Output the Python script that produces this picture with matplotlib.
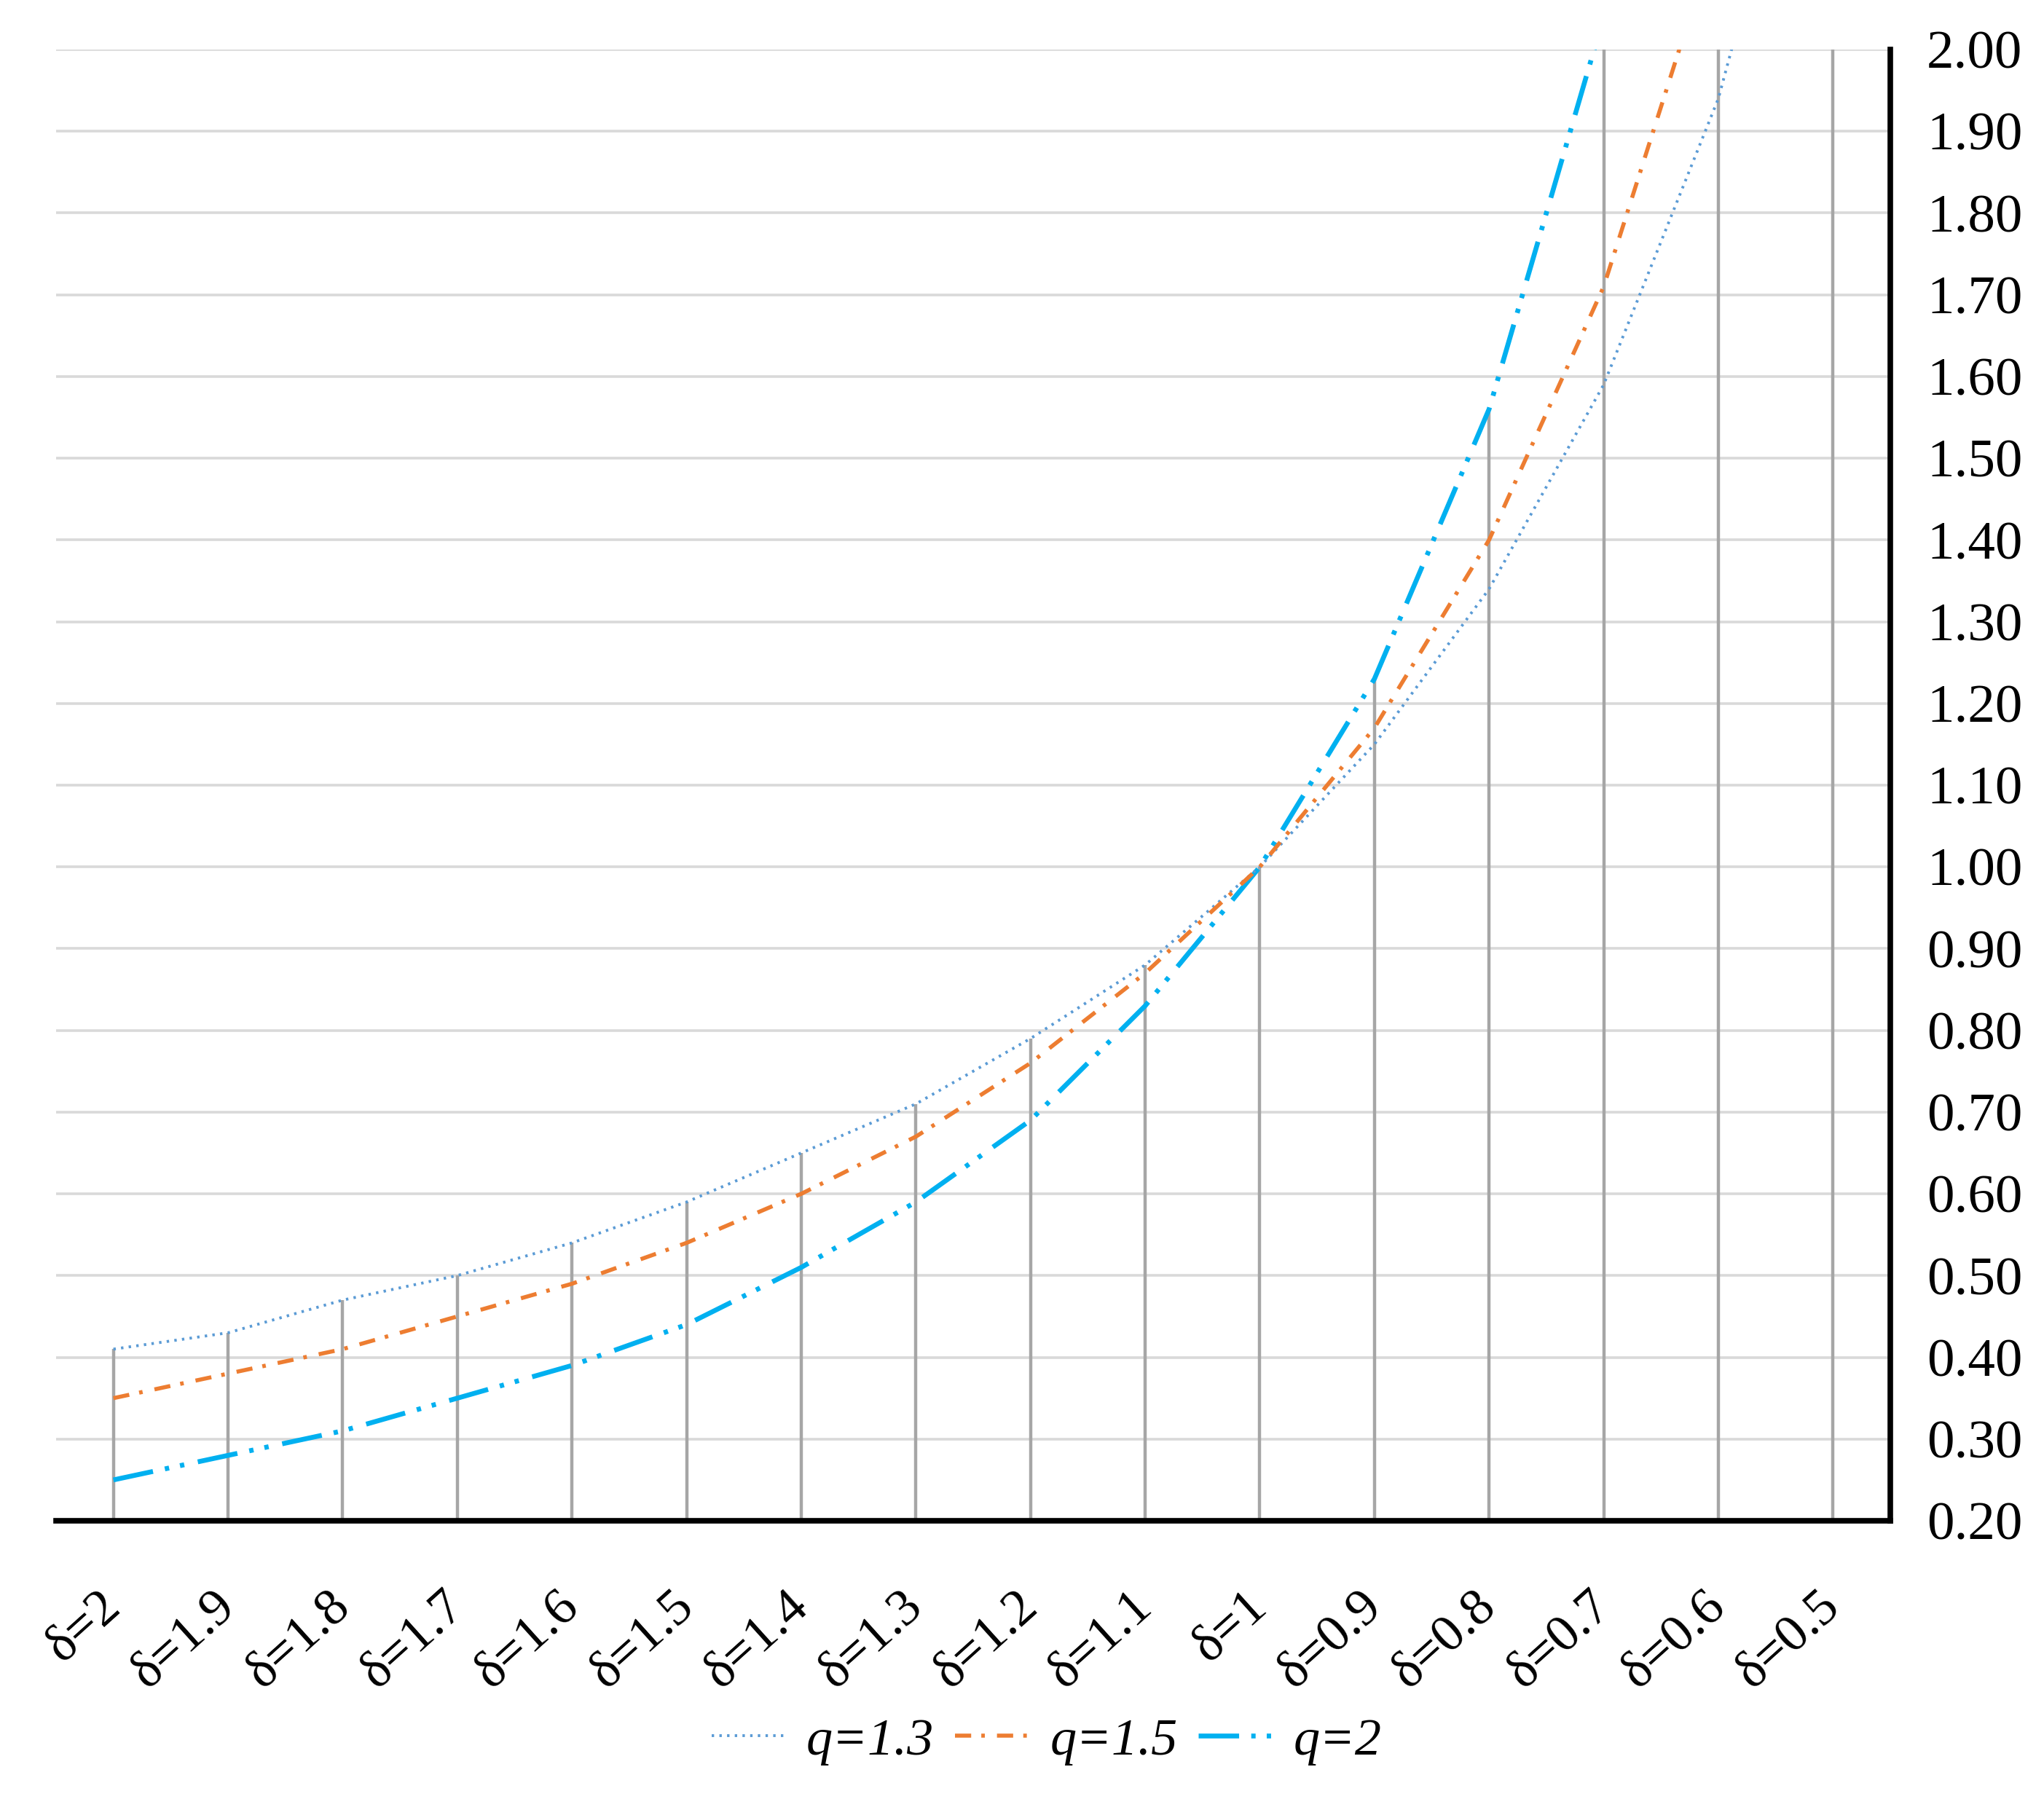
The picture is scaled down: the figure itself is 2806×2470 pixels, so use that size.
import matplotlib
matplotlib.use("Agg")
import matplotlib.pyplot as plt
import numpy as np

plt.rcParams['font.family'] = ['Liberation Serif', 'DejaVu Serif']
plt.rcParams['lines.scale_dashes'] = False

categories = ["δ=2", "δ=1.9", "δ=1.8", "δ=1.7", "δ=1.6", "δ=1.5", "δ=1.4", "δ=1.3",
              "δ=1.2", "δ=1.1", "δ=1", "δ=0.9", "δ=0.8", "δ=0.7", "δ=0.6", "δ=0.5"]
q13 = [0.41, 0.43, 0.47, 0.50, 0.54, 0.59, 0.65, 0.71, 0.79, 0.88, 1.00, 1.15, 1.34, 1.59, 1.94, 2.46]
q15 = [0.35, 0.38, 0.41, 0.45, 0.49, 0.54, 0.60, 0.67, 0.76, 0.87, 1.00, 1.17, 1.40, 1.71, 2.15, 2.83]
q2 = [0.25, 0.28, 0.31, 0.35, 0.39, 0.44, 0.51, 0.59, 0.69, 0.83, 1.00, 1.23, 1.56, 2.04, 2.78, 4.00]
series_labels = ["q=1.3", "q=1.5", "q=2"]
yticks = [0.20, 0.30, 0.40, 0.50, 0.60, 0.70, 0.80, 0.90, 1.00, 1.10,
          1.20, 1.30, 1.40, 1.50, 1.60, 1.70, 1.80, 1.90, 2.00]

fig = plt.figure(figsize=(28.06, 24.70), dpi=100)
ax = fig.add_axes([77/2806, 1-2088/2470, (2595-77)/2806, (2088-68)/2470])

x = np.arange(len(categories))
ymin, ymax = yticks[0], yticks[-1]

# horizontal gridlines
for yv in yticks[1:]:
    ax.axhline(yv, color='#D9D9D9', lw=2.6, zorder=1)

# drop lines
tops = np.minimum(np.max(np.vstack([q13, q15, q2]), axis=0), ymax)
ax.vlines(x, ymin, tops, color='#A6A6A6', lw=3.2, zorder=2)

ax.plot(x, q13, color='#5B9BD5', lw=2.8, dashes=(2.4, 5.2), dash_capstyle='butt',
        label=series_labels[0], zorder=4)
ax.plot(x, q15, color='#ED7D31', lw=4.0, dashes=(16, 10, 3.5, 12), dash_capstyle='butt',
        label=series_labels[1], zorder=4)
ax.plot(x, q2, color='#00B0F0', lw=4.8, dashes=(40, 12, 4.3, 11, 4.3, 13.7), dash_capstyle='butt',
        label=series_labels[2], zorder=3)

ax.set_xlim(-0.5, len(categories) - 0.5)
ax.set_ylim(ymin, ymax)

ax.yaxis.tick_right()
ax.set_yticks(yticks)
ax.set_yticklabels([f"{v:.2f}" for v in yticks])
ax.tick_params(axis='y', length=0, pad=36, labelsize=54)

ax.set_xticks(x)
ax.set_xticklabels(categories, rotation=42, ha='right', va='center', rotation_mode='anchor')
ax.tick_params(axis='x', length=0, pad=78, labelsize=52)

for s in ['top', 'left']:
    ax.spines[s].set_visible(False)
for s in ['right', 'bottom']:
    ax.spines[s].set_color('black')
    ax.spines[s].set_linewidth(5.5)
    ax.spines[s].set_zorder(5)
ax.spines['right'].set_capstyle('projecting')
ax.spines['bottom'].set_capstyle('projecting')

leg = fig.legend(loc='center', bbox_to_anchor=(0.512, 0.032), ncol=3, frameon=False,
                 prop={'family': 'Liberation Serif', 'style': 'italic', 'size': 52},
                 handlelength=1.4, handletextpad=0.4, columnspacing=0.4)

fig.savefig("out.png", dpi=100)
